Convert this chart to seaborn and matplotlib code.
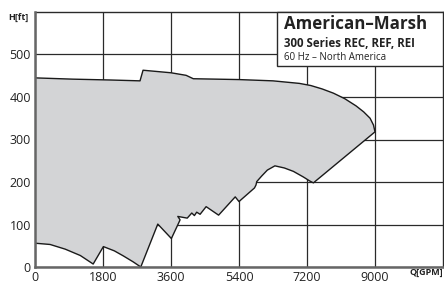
import matplotlib
matplotlib.use("Agg")
import matplotlib.pyplot as plt
import seaborn as sns
import pandas as pd
from matplotlib.patches import Rectangle

# ---- data ----
upper_q = [0, 1000, 2000, 2780, 2860, 3600, 4000, 4190, 5400, 6300, 7000, 7300, 7600, 7900,
           8200, 8500, 8700, 8870, 8960, 9000]
upper_h = [445, 442, 440, 438, 463, 457, 451, 443, 441, 438, 432, 427, 419, 409,
           396, 379, 365, 350, 334, 318]

lower_q = [9000, 7370, 7280, 7100, 6840, 6600, 6350, 6150, 6000, 5870, 5850, 5810, 5400, 5300,
           4860, 4530, 4370, 4280, 4220, 4150, 4030, 3780, 3840, 3810, 3610, 3250, 2800, 2600,
           2340, 2100, 1810, 1540, 1200, 800, 400, 0]
lower_h = [318, 198, 202, 212, 225, 233, 238, 228, 214, 201, 193, 186, 154, 165,
           122, 142, 124, 129, 121, 127, 115, 119, 111, 105, 67, 101, 0, 12,
           26, 38, 48, 7, 27, 42, 53, 56]

x_ticks = [0, 1800, 3600, 5400, 7200, 9000]
y_ticks = [0, 100, 200, 300, 400, 500]

title = "American–Marsh"
subtitle = "300 Series REC, REF, REI"
region = "60 Hz – North America"

# ---- figure ----
sns.set_style("white")
plt.rcParams['font.family'] = ['Open Sans', 'DejaVu Sans']

fig = plt.figure(figsize=(4.44, 2.84), dpi=100)
ax = fig.add_axes([35/444, 1-267/284, 408/444, 255/284])

poly_q = upper_q + lower_q
poly_h = upper_h + lower_h
ax.fill(poly_q, poly_h, color="#d3d4d6", zorder=2, lw=0)
df = pd.DataFrame({"Q": poly_q + [upper_q[0]], "H": poly_h + [upper_h[0]]})
sns.lineplot(data=df, x="Q", y="H", sort=False, estimator=None, color="#1a1a1a",
             lw=1.0, ax=ax, zorder=3)

ax.set_xlim(0, 10800)
ax.set_ylim(0, 600)
ax.set_xticks(x_ticks)
ax.set_yticks(y_ticks)
ax.set_xticklabels([str(v) for v in x_ticks], fontsize=9, color="#222222")
ax.set_yticklabels([str(v) for v in y_ticks], fontsize=9, color="#222222")
ax.tick_params(length=0, pad=3)
ax.set_xlabel("")
ax.set_ylabel("")
ax.grid(True, color="#2a2a2a", lw=0.9, zorder=1)
ax.set_axisbelow(True)

for s in ["top", "right"]:
    ax.spines[s].set_color("#2a2a2a")
    ax.spines[s].set_linewidth(1.0)
for s in ["left", "bottom"]:
    ax.spines[s].set_color("#666666")
    ax.spines[s].set_linewidth(1.8)
    ax.spines[s].set_zorder(4)

# title box
box = Rectangle((0.593, 0.789), 0.407, 0.211, transform=ax.transAxes,
                facecolor="white", edgecolor="#2a2a2a", lw=1.0, zorder=5, clip_on=False)
ax.add_patch(box)
ax.text(284/444, 1-29/284, title, transform=fig.transFigure, fontsize=12.2,
        fontweight="bold", color="#222222", zorder=6, va="baseline")
ax.text(284/444, 1-47/284, subtitle, transform=fig.transFigure, fontsize=8.3,
        fontweight="bold", color="#222222", zorder=6, va="baseline")
ax.text(284/444, 1-60/284, region, transform=fig.transFigure, fontsize=7.0,
        color="#222222", zorder=6, va="baseline")

fig.text(8/444, 1-20/284, "H[ft]", fontsize=6.5, fontweight="bold", color="#222222", va="baseline")
fig.text(443/444, 1-275/284, "Q[GPM]", fontsize=6.5, fontweight="bold", color="#222222",
         va="baseline", ha="right")

fig.savefig("out.png", dpi=100)
